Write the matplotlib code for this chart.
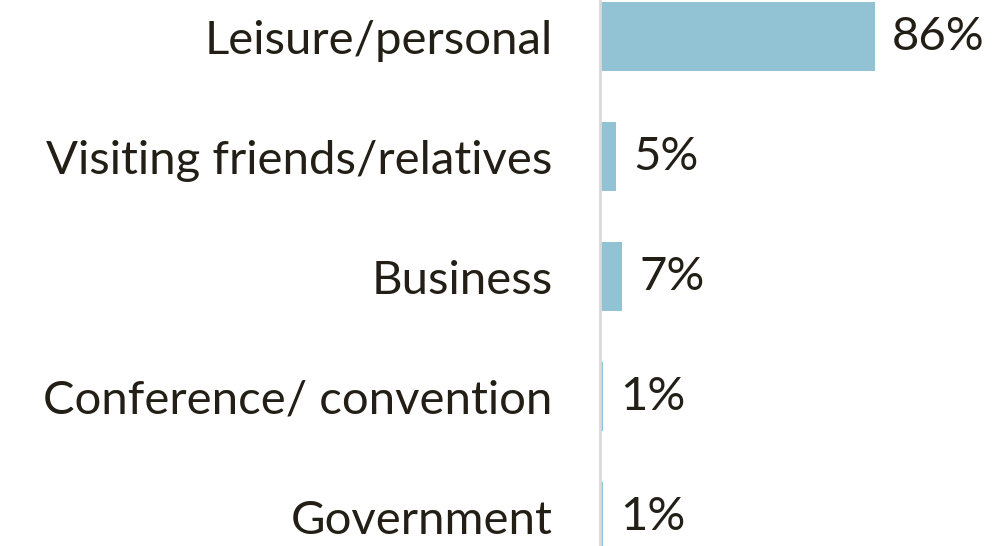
import matplotlib
matplotlib.use("Agg")
import matplotlib.pyplot as plt

# trip purpose shares
categories = ["Leisure/personal", "Visiting friends/relatives", "Business",
              "Conference/ convention", "Government"]
values = [86, 5, 7, 1, 1]
labels = ["86%", "5%", "7%", "1%", "1%"]

bar_color = "#92C3D4"
text_color = "#231F16"

plt.rcParams['font.family'] = ['Lato', 'DejaVu Sans']

fig = plt.figure(figsize=(10.04, 5.46), dpi=100)
# axes from x=600px to right edge, full height
ax = fig.add_axes([600 / 1004, 0, 404 / 1004, 1])

ypos = list(range(len(categories)))
ax.barh(ypos, values, height=0.575, color=bar_color)

for y, v, lab in zip(ypos, values, labels):
    ax.text(v + 5.3, y, lab, va="center", ha="left", fontsize=34,
            color=text_color)

ax.set_xlim(0, 404 / 3.2)
ax.set_ylim((546 - 36.5) / 120, -36.5 / 120)

ax.set_yticks(ypos)
ax.set_yticklabels(categories, fontsize=34, color=text_color)
ax.tick_params(axis="y", length=0, pad=34)
ax.set_xticks([])

for s in ["top", "right", "bottom"]:
    ax.spines[s].set_visible(False)
ax.spines["left"].set_color("#D9D9D9")
ax.spines["left"].set_linewidth(2)

fig.savefig("out.png", dpi=100)
plt.close()
